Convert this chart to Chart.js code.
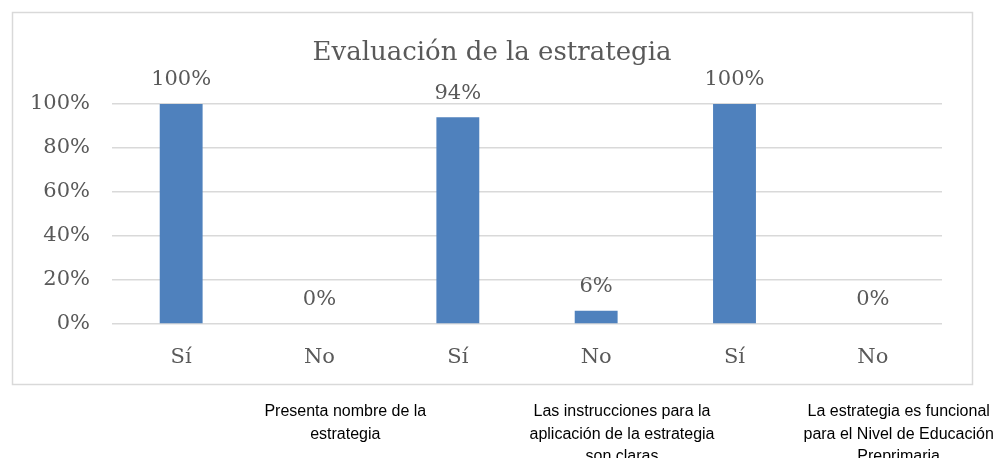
<!DOCTYPE html>
<html><head><meta charset="utf-8">
<script src="https://cdn.jsdelivr.net/npm/chart.js@4.4.1/dist/chart.umd.min.js"></script>
<style>html,body{margin:0;padding:0;background:#fff;}#wrap{width:1000px;height:458px;position:relative;}</style>
</head><body><div id="wrap"><canvas id="c" width="1000" height="458"></canvas></div>
<script>
const title = 'Evaluación de la estrategia';
const categories = ['Sí', 'No', 'Sí', 'No', 'Sí', 'No'];
const values = [100, 0, 94, 6, 100, 0];
const groupLabels = [
  ['Presenta nombre de la', 'estrategia'],
  ['Las instrucciones para la', 'aplicación de la estrategia', 'son claras'],
  ['La estrategia es funcional', 'para el Nivel de Educación', 'Preprimaria']
];
const yTicks = [0, 20, 40, 60, 80, 100];

const SERIF = '"DejaVu Serif", serif';
const GRAY = '#595959';

const deco = {
  id: 'deco',
  beforeDraw(chart) {
    const ctx = chart.ctx;
    ctx.save();
    ctx.fillStyle = '#fff';
    ctx.fillRect(0, 0, chart.width, chart.height);
    ctx.strokeStyle = '#d9d9d9';
    ctx.lineWidth = 1.5;
    ctx.strokeRect(12.5, 12.5, 960, 372);
    ctx.restore();
  },
  afterDatasetsDraw(chart) {
    const ctx = chart.ctx;
    const meta = chart.getDatasetMeta(0);
    ctx.save();
    ctx.fillStyle = GRAY;
    ctx.textAlign = 'center';
    ctx.textBaseline = 'middle';
    ctx.font = '21px ' + SERIF;
    meta.data.forEach((bar, i) => {
      ctx.fillText(values[i] + '%', bar.x, bar.y - 24);
    });
    // title
    ctx.font = '26px ' + SERIF;
    ctx.fillText(title, 492, 53);
    // group labels
    const xs = chart.scales.x;
    ctx.fillStyle = '#000';
    ctx.font = '16px "Liberation Sans", Arial, sans-serif';
    groupLabels.forEach((lines, g) => {
      const cx = (xs.getPixelForValue(g * 2) + xs.getPixelForValue(g * 2 + 1)) / 2 + 95;
      lines.forEach((t, k) => ctx.fillText(t, cx, 412 + k * 22.5));
    });
    ctx.restore();
  }
};

new Chart(document.getElementById('c'), {
  type: 'bar',
  data: {
    labels: categories,
    datasets: [{ data: values, backgroundColor: '#4f81bd', borderWidth: 0,
      categoryPercentage: 1, barPercentage: 0.31 }]
  },
  options: {
    responsive: false,
    animation: false,
    events: [],
    layout: { padding: { left: 12, right: 58, top: 104, bottom: 0 } },
    plugins: { legend: { display: false }, title: { display: false }, tooltip: { enabled: false } },
    scales: {
      x: {
        grid: { display: false, drawTicks: false },
        border: { display: false },
        ticks: { color: GRAY, font: { family: SERIF, size: 21 }, padding: 21, maxRotation: 0 },
        afterFit(s) { s.height = 134; }
      },
      y: {
        min: 0, max: 100,
        afterBuildTicks(s) { s.ticks = yTicks.map(v => ({ value: v })); },
        grid: { color: '#d9d9d9', lineWidth: 1.5, drawTicks: false },
        border: { display: false },
        ticks: { color: GRAY, font: { family: SERIF, size: 21 }, padding: 22, callback: v => v + '%' },
        afterFit(s) { s.width = 100; }
      }
    }
  },
  plugins: [deco]
});
</script></body></html>
